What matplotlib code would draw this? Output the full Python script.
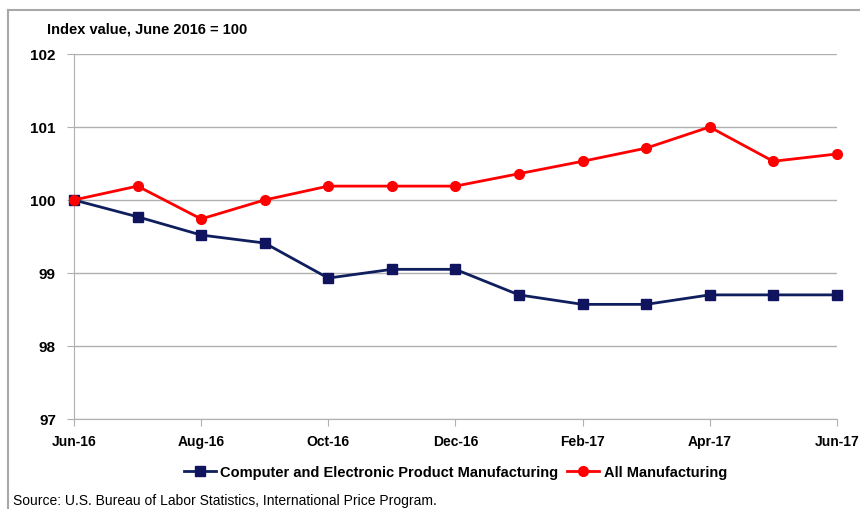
import matplotlib.pyplot as plt
from matplotlib.lines import Line2D

plt.rcParams['font.family'] = ['Liberation Sans Narrow', 'Liberation Sans', 'DejaVu Sans']

# data
months = ['Jun-16', 'Jul-16', 'Aug-16', 'Sep-16', 'Oct-16', 'Nov-16', 'Dec-16',
          'Jan-17', 'Feb-17', 'Mar-17', 'Apr-17', 'May-17', 'Jun-17']
computer = [100.0, 99.77, 99.52, 99.41, 98.93, 99.05, 99.05,
            98.70, 98.57, 98.57, 98.70, 98.70, 98.70]
all_mfg = [100.0, 100.19, 99.74, 100.0, 100.19, 100.19, 100.19,
           100.36, 100.53, 100.71, 101.0, 100.53, 100.63]
tick_labels = ['Jun-16', 'Aug-16', 'Oct-16', 'Dec-16', 'Feb-17', 'Apr-17', 'Jun-17']

navy = '#0f1f5e'
red = '#ff0000'
grey = '#b0b0b0'

fig = plt.figure(figsize=(8.6, 5.1), dpi=100)
ax = fig.add_axes([0.086, 0.1765, 0.887, 0.7157])

x = list(range(len(months)))
ax.plot(x, computer, color=navy, lw=2.0, marker='s', ms=7, mfc='#10145f', mec='#10145f',
        clip_on=False, zorder=3, label='Computer and Electronic Product Manufacturing')
ax.plot(x, all_mfg, color=red, lw=2.0, marker='o', ms=7, mfc=red, mec=red,
        clip_on=False, zorder=4, label='All Manufacturing')

ax.set_xlim(0, 12)
ax.set_ylim(97, 102)
ax.set_xticks(x[::2])
ax.set_xticklabels(tick_labels, fontsize=10, fontweight='bold')
ax.set_yticks([97, 98, 99, 100, 101, 102])
ax.set_yticklabels(['97', '98', '99', '100', '101', '102'], fontsize=11, fontweight='bold')
ax.grid(axis='y', color=grey, lw=1)
ax.set_axisbelow(True)
for s in ['top', 'right']:
    ax.spines[s].set_visible(False)
for s in ['left', 'bottom']:
    ax.spines[s].set_color(grey)
ax.tick_params(axis='x', length=5, color=grey, pad=6)
ax.tick_params(axis='y', length=5, color=grey, pad=8)

ax.legend(loc='center', bbox_to_anchor=(0.5, -0.146), ncol=2, frameon=False,
          prop={'size': 10.5, 'weight': 'bold'}, handlelength=2.2, handletextpad=0.3,
          columnspacing=0.6)

fig.text(47 / 860, 1 - 29 / 510, 'Index value, June 2016 = 100', fontsize=10.5,
         fontweight='bold', va='center')
fig.text(13 / 860, 1 - 501 / 510, 'Source: U.S. Bureau of Labor Statistics, International Price Program.',
         fontsize=10, va='center')

# outer chart frame (top and left edges visible)
fig.add_artist(Line2D([8 / 860, 1], [1 - 11 / 510, 1 - 11 / 510], color='#a8a8a8', lw=1.5))
fig.add_artist(Line2D([8 / 860, 8 / 860], [0, 1 - 11 / 510], color='#a8a8a8', lw=1.5))

fig.savefig('out.png', dpi=100)
